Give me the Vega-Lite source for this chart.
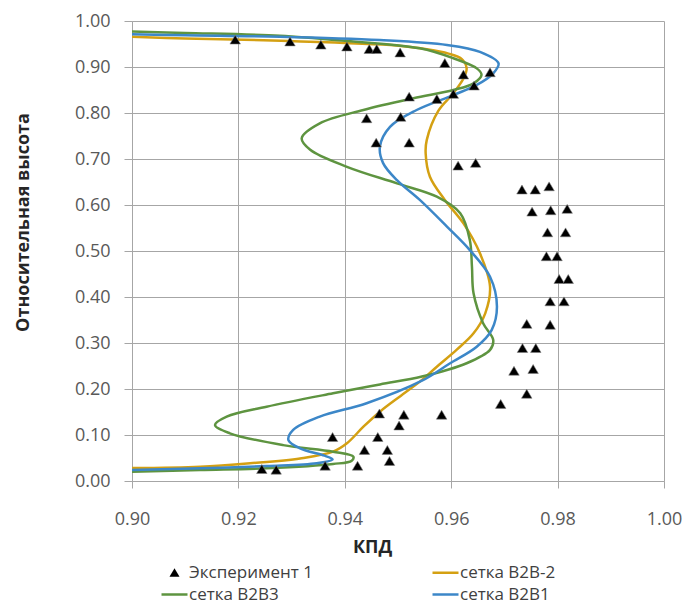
{
  "$schema": "https://vega.github.io/schema/vega-lite/v6.json",
  "width": 532,
  "height": 460,
  "autosize": "none",
  "padding": {"left": 132, "top": 21, "right": 22, "bottom": 129},
  "background": "white",
  "config": {
    "view": {"stroke": null},
    "font": "Open Sans",
    "axis": {
      "gridColor": "#a6a6a6", "gridWidth": 1, "gridOpacity": 1,
      "domainColor": "#a6a6a6", "domainWidth": 1,
      "tickColor": "#a6a6a6", "tickWidth": 1,
      "labelFont": "Open Sans", "labelFontSize": 18, "labelColor": "#595959",
      "titleFont": "Open Sans", "titleFontSize": 18, "titleFontWeight": "bold", "titleColor": "#262626"
    }
  },
  "datasets": {
    "exp": [
      {"series": "Эксперимент 1", "kpd": 0.9194, "h": 0.959},
      {"series": "Эксперимент 1", "kpd": 0.9297, "h": 0.955},
      {"series": "Эксперимент 1", "kpd": 0.9355, "h": 0.948},
      {"series": "Эксперимент 1", "kpd": 0.9404, "h": 0.944},
      {"series": "Эксперимент 1", "kpd": 0.9446, "h": 0.9385},
      {"series": "Эксперимент 1", "kpd": 0.946, "h": 0.9385},
      {"series": "Эксперимент 1", "kpd": 0.9504, "h": 0.931},
      {"series": "Эксперимент 1", "kpd": 0.9588, "h": 0.908},
      {"series": "Эксперимент 1", "kpd": 0.9623, "h": 0.883},
      {"series": "Эксперимент 1", "kpd": 0.9673, "h": 0.888},
      {"series": "Эксперимент 1", "kpd": 0.9643, "h": 0.859},
      {"series": "Эксперимент 1", "kpd": 0.9521, "h": 0.835},
      {"series": "Эксперимент 1", "kpd": 0.9573, "h": 0.83},
      {"series": "Эксперимент 1", "kpd": 0.9604, "h": 0.841},
      {"series": "Эксперимент 1", "kpd": 0.9505, "h": 0.791},
      {"series": "Эксперимент 1", "kpd": 0.9441, "h": 0.788},
      {"series": "Эксперимент 1", "kpd": 0.9459, "h": 0.735},
      {"series": "Эксперимент 1", "kpd": 0.9521, "h": 0.735},
      {"series": "Эксперимент 1", "kpd": 0.9613, "h": 0.685},
      {"series": "Эксперимент 1", "kpd": 0.9646, "h": 0.691},
      {"series": "Эксперимент 1", "kpd": 0.9733, "h": 0.633},
      {"series": "Эксперимент 1", "kpd": 0.9758, "h": 0.633},
      {"series": "Эксперимент 1", "kpd": 0.9784, "h": 0.64},
      {"series": "Эксперимент 1", "kpd": 0.9752, "h": 0.585},
      {"series": "Эксперимент 1", "kpd": 0.9787, "h": 0.588},
      {"series": "Эксперимент 1", "kpd": 0.9818, "h": 0.591},
      {"series": "Эксперимент 1", "kpd": 0.9781, "h": 0.54},
      {"series": "Эксперимент 1", "kpd": 0.9815, "h": 0.54},
      {"series": "Эксперимент 1", "kpd": 0.9779, "h": 0.488},
      {"series": "Эксперимент 1", "kpd": 0.9799, "h": 0.488},
      {"series": "Эксперимент 1", "kpd": 0.9803, "h": 0.4385},
      {"series": "Эксперимент 1", "kpd": 0.982, "h": 0.4385},
      {"series": "Эксперимент 1", "kpd": 0.9786, "h": 0.39},
      {"series": "Эксперимент 1", "kpd": 0.9812, "h": 0.39},
      {"series": "Эксперимент 1", "kpd": 0.9742, "h": 0.341},
      {"series": "Эксперимент 1", "kpd": 0.9786, "h": 0.339},
      {"series": "Эксперимент 1", "kpd": 0.9734, "h": 0.2885},
      {"series": "Эксперимент 1", "kpd": 0.9759, "h": 0.2885},
      {"series": "Эксперимент 1", "kpd": 0.9718, "h": 0.239},
      {"series": "Эксперимент 1", "kpd": 0.9754, "h": 0.243},
      {"series": "Эксперимент 1", "kpd": 0.9742, "h": 0.189},
      {"series": "Эксперимент 1", "kpd": 0.9693, "h": 0.167},
      {"series": "Эксперимент 1", "kpd": 0.9582, "h": 0.1435},
      {"series": "Эксперимент 1", "kpd": 0.9511, "h": 0.1435},
      {"series": "Эксперимент 1", "kpd": 0.9465, "h": 0.146},
      {"series": "Эксперимент 1", "kpd": 0.9502, "h": 0.12},
      {"series": "Эксперимент 1", "kpd": 0.9377, "h": 0.095},
      {"series": "Эксперимент 1", "kpd": 0.9462, "h": 0.095},
      {"series": "Эксперимент 1", "kpd": 0.9437, "h": 0.067},
      {"series": "Эксперимент 1", "kpd": 0.948, "h": 0.067},
      {"series": "Эксперимент 1", "kpd": 0.9484, "h": 0.043},
      {"series": "Эксперимент 1", "kpd": 0.9424, "h": 0.0326},
      {"series": "Эксперимент 1", "kpd": 0.9363, "h": 0.0326},
      {"series": "Эксперимент 1", "kpd": 0.9244, "h": 0.0254},
      {"series": "Эксперимент 1", "kpd": 0.9271, "h": 0.024}
    ],
    "curves": [
      {"series": "сетка B2B-2", "kpd": 0.9, "h": 0.028},
      {"series": "сетка B2B-2", "kpd": 0.9128, "h": 0.031},
      {"series": "сетка B2B-2", "kpd": 0.9222, "h": 0.0385},
      {"series": "сетка B2B-2", "kpd": 0.9316, "h": 0.049},
      {"series": "сетка B2B-2", "kpd": 0.9378, "h": 0.0637},
      {"series": "сетка B2B-2", "kpd": 0.9404, "h": 0.082},
      {"series": "сетка B2B-2", "kpd": 0.9435, "h": 0.118},
      {"series": "сетка B2B-2", "kpd": 0.9466, "h": 0.1507},
      {"series": "сетка B2B-2", "kpd": 0.9505, "h": 0.185},
      {"series": "сетка B2B-2", "kpd": 0.9541, "h": 0.216},
      {"series": "сетка B2B-2", "kpd": 0.9573, "h": 0.2485},
      {"series": "сетка B2B-2", "kpd": 0.961, "h": 0.285},
      {"series": "сетка B2B-2", "kpd": 0.9642, "h": 0.321},
      {"series": "сетка B2B-2", "kpd": 0.9664, "h": 0.3645},
      {"series": "сетка B2B-2", "kpd": 0.9673, "h": 0.4224},
      {"series": "сетка B2B-2", "kpd": 0.9654, "h": 0.495},
      {"series": "сетка B2B-2", "kpd": 0.9623, "h": 0.56},
      {"series": "сетка B2B-2", "kpd": 0.9588, "h": 0.611},
      {"series": "сетка B2B-2", "kpd": 0.956, "h": 0.6615},
      {"series": "сетка B2B-2", "kpd": 0.9552, "h": 0.712},
      {"series": "сетка B2B-2", "kpd": 0.9554, "h": 0.741},
      {"series": "сетка B2B-2", "kpd": 0.9576, "h": 0.805},
      {"series": "сетка B2B-2", "kpd": 0.9604, "h": 0.843},
      {"series": "сетка B2B-2", "kpd": 0.9623, "h": 0.875},
      {"series": "сетка B2B-2", "kpd": 0.9629, "h": 0.897},
      {"series": "сетка B2B-2", "kpd": 0.962, "h": 0.917},
      {"series": "сетка B2B-2", "kpd": 0.9595, "h": 0.929},
      {"series": "сетка B2B-2", "kpd": 0.9545, "h": 0.94},
      {"series": "сетка B2B-2", "kpd": 0.9497, "h": 0.947},
      {"series": "сетка B2B-2", "kpd": 0.928, "h": 0.957},
      {"series": "сетка B2B-2", "kpd": 0.91, "h": 0.962},
      {"series": "сетка B2B-2", "kpd": 0.9, "h": 0.966},

      {"series": "сетка B2B3", "kpd": 0.9, "h": 0.02},
      {"series": "сетка B2B3", "kpd": 0.9128, "h": 0.024},
      {"series": "сетка B2B3", "kpd": 0.9253, "h": 0.0276},
      {"series": "сетка B2B3", "kpd": 0.9378, "h": 0.037},
      {"series": "сетка B2B3", "kpd": 0.9413, "h": 0.0441},
      {"series": "сетка B2B3", "kpd": 0.9416, "h": 0.053},
      {"series": "сетка B2B3", "kpd": 0.9378, "h": 0.0637},
      {"series": "сетка B2B3", "kpd": 0.9284, "h": 0.078},
      {"series": "сетка B2B3", "kpd": 0.9184, "h": 0.1037},
      {"series": "сетка B2B3", "kpd": 0.9156, "h": 0.1217},
      {"series": "сетка B2B3", "kpd": 0.9178, "h": 0.14},
      {"series": "сетка B2B3", "kpd": 0.9253, "h": 0.1615},
      {"series": "сетка B2B3", "kpd": 0.9378, "h": 0.1907},
      {"series": "сетка B2B3", "kpd": 0.9466, "h": 0.21},
      {"series": "сетка B2B3", "kpd": 0.9545, "h": 0.227},
      {"series": "сетка B2B3", "kpd": 0.9629, "h": 0.256},
      {"series": "сетка B2B3", "kpd": 0.9673, "h": 0.285},
      {"series": "сетка B2B3", "kpd": 0.9679, "h": 0.3065},
      {"series": "сетка B2B3", "kpd": 0.966, "h": 0.343},
      {"series": "сетка B2B3", "kpd": 0.9642, "h": 0.408},
      {"series": "сетка B2B3", "kpd": 0.9639, "h": 0.466},
      {"series": "сетка B2B3", "kpd": 0.9635, "h": 0.524},
      {"series": "сетка B2B3", "kpd": 0.9617, "h": 0.582},
      {"series": "сетка B2B3", "kpd": 0.9573, "h": 0.618},
      {"series": "сетка B2B3", "kpd": 0.9498, "h": 0.647},
      {"series": "сетка B2B3", "kpd": 0.9404, "h": 0.683},
      {"series": "сетка B2B3", "kpd": 0.9335, "h": 0.72},
      {"series": "сетка B2B3", "kpd": 0.9319, "h": 0.745},
      {"series": "сетка B2B3", "kpd": 0.9353, "h": 0.7776},
      {"series": "сетка B2B3", "kpd": 0.9435, "h": 0.8065},
      {"series": "сетка B2B3", "kpd": 0.9529, "h": 0.832},
      {"series": "сетка B2B3", "kpd": 0.9604, "h": 0.85},
      {"series": "сетка B2B3", "kpd": 0.9642, "h": 0.8645},
      {"series": "сетка B2B3", "kpd": 0.9657, "h": 0.883},
      {"series": "сетка B2B3", "kpd": 0.9648, "h": 0.897},
      {"series": "сетка B2B3", "kpd": 0.9604, "h": 0.919},
      {"series": "сетка B2B3", "kpd": 0.9541, "h": 0.9406},
      {"series": "сетка B2B3", "kpd": 0.94, "h": 0.957},
      {"series": "сетка B2B3", "kpd": 0.9278, "h": 0.968},
      {"series": "сетка B2B3", "kpd": 0.91, "h": 0.974},
      {"series": "сетка B2B3", "kpd": 0.9, "h": 0.977},

      {"series": "сетка B2B1", "kpd": 0.9, "h": 0.024},
      {"series": "сетка B2B1", "kpd": 0.9128, "h": 0.0276},
      {"series": "сетка B2B1", "kpd": 0.9253, "h": 0.0326},
      {"series": "сетка B2B1", "kpd": 0.9347, "h": 0.0385},
      {"series": "сетка B2B1", "kpd": 0.9377, "h": 0.047},
      {"series": "сетка B2B1", "kpd": 0.9362, "h": 0.055},
      {"series": "сетка B2B1", "kpd": 0.9316, "h": 0.071},
      {"series": "сетка B2B1", "kpd": 0.9294, "h": 0.089},
      {"series": "сетка B2B1", "kpd": 0.9303, "h": 0.111},
      {"series": "сетка B2B1", "kpd": 0.9353, "h": 0.14},
      {"series": "сетка B2B1", "kpd": 0.9441, "h": 0.169},
      {"series": "сетка B2B1", "kpd": 0.9545, "h": 0.218},
      {"series": "сетка B2B1", "kpd": 0.9598, "h": 0.256},
      {"series": "сетка B2B1", "kpd": 0.9648, "h": 0.292},
      {"series": "сетка B2B1", "kpd": 0.9676, "h": 0.328},
      {"series": "сетка B2B1", "kpd": 0.9686, "h": 0.379},
      {"series": "сетка B2B1", "kpd": 0.9673, "h": 0.444},
      {"series": "сетка B2B1", "kpd": 0.9635, "h": 0.502},
      {"series": "сетка B2B1", "kpd": 0.9592, "h": 0.553},
      {"series": "сетка B2B1", "kpd": 0.9541, "h": 0.611},
      {"series": "сетка B2B1", "kpd": 0.9498, "h": 0.654},
      {"series": "сетка B2B1", "kpd": 0.9472, "h": 0.691},
      {"series": "сетка B2B1", "kpd": 0.9466, "h": 0.727},
      {"series": "сетка B2B1", "kpd": 0.9485, "h": 0.77},
      {"series": "сетка B2B1", "kpd": 0.9535, "h": 0.8065},
      {"series": "сетка B2B1", "kpd": 0.9604, "h": 0.839},
      {"series": "сетка B2B1", "kpd": 0.9648, "h": 0.861},
      {"series": "сетка B2B1", "kpd": 0.9679, "h": 0.8863},
      {"series": "сетка B2B1", "kpd": 0.9689, "h": 0.908},
      {"series": "сетка B2B1", "kpd": 0.9654, "h": 0.933},
      {"series": "сетка B2B1", "kpd": 0.9592, "h": 0.948},
      {"series": "сетка B2B1", "kpd": 0.9466, "h": 0.9587},
      {"series": "сетка B2B1", "kpd": 0.9278, "h": 0.966},
      {"series": "сетка B2B1", "kpd": 0.91, "h": 0.969},
      {"series": "сетка B2B1", "kpd": 0.9, "h": 0.971}
    ]
  },
  "encoding": {
    "x": {
      "field": "kpd", "type": "quantitative",
      "scale": {"domain": [0.9, 1.0], "nice": false, "zero": false},
      "axis": {
        "title": "КПД", "format": ".2f",
        "values": [0.9, 0.92, 0.94, 0.96, 0.98, 1.0],
        "tickSize": 7, "labelPadding": 22, "labelFlush": false, "labelOverlap": false,
        "titleX": 240, "titleY": 57, "titleBaseline": "top", "titleAnchor": null
      }
    },
    "y": {
      "field": "h", "type": "quantitative",
      "scale": {"domain": [0, 1], "nice": false},
      "axis": {
        "title": "Относительная высота", "format": ".2f",
        "values": [0, 0.1, 0.2, 0.3, 0.4, 0.5, 0.6, 0.7, 0.8, 0.9, 1.0],
        "tickSize": 8, "labelPadding": 14, "labelFlush": false, "labelOverlap": false,
        "titleX": -100, "titleY": 201
      }
    },
    "color": {
      "field": "series", "type": "nominal",
      "scale": {
        "domain": ["Эксперимент 1", "сетка B2B-2", "сетка B2B3", "сетка B2B1"],
        "range": ["#000000", "#D4A012", "#5E9440", "#3C87C8"]
      },
      "legend": {
        "title": null, "orient": "none", "legendX": 34, "legendY": 543,
        "direction": "horizontal", "columns": 2, "columnPadding": 114, "rowPadding": 4,
        "padding": 0, "symbolSize": 400, "labelOffset": 6,
        "labelFont": "Open Sans", "labelFontSize": 17, "labelColor": "#404040",
        "symbolType": "circle",
        "encode": {
          "symbols": {
            "update": {
              "shape": {"signal": "datum.value === 'Эксперимент 1' ? 'M0,-0.45L0.5,0.4L-0.5,0.4Z' : 'M-1.3,0L1.3,0'"},
              "fill": {"signal": "datum.value === 'Эксперимент 1' ? '#000000' : 'transparent'"},
              "stroke": {"scale": "color", "field": "value"},
              "strokeWidth": {"signal": "datum.value === 'Эксперимент 1' ? 0 : 2.5"},
              "size": {"value": 400},
              "opacity": {"value": 1}
            }
          }
        }
      }
    }
  },
  "layer": [
    {
      "data": {"name": "curves"},
      "mark": {"type": "line", "interpolate": "catmull-rom", "strokeWidth": 2.5},
      "encoding": {"order": {"field": "h", "type": "quantitative"}}
    },
    {
      "data": {"name": "exp"},
      "mark": {"type": "point", "filled": true, "opacity": 1, "size": 440,
               "shape": "M0,-0.45L0.5,0.4L-0.5,0.4Z",
               "stroke": "#808080", "strokeWidth": 0.8, "strokeOpacity": 0.7}
    }
  ]
}
